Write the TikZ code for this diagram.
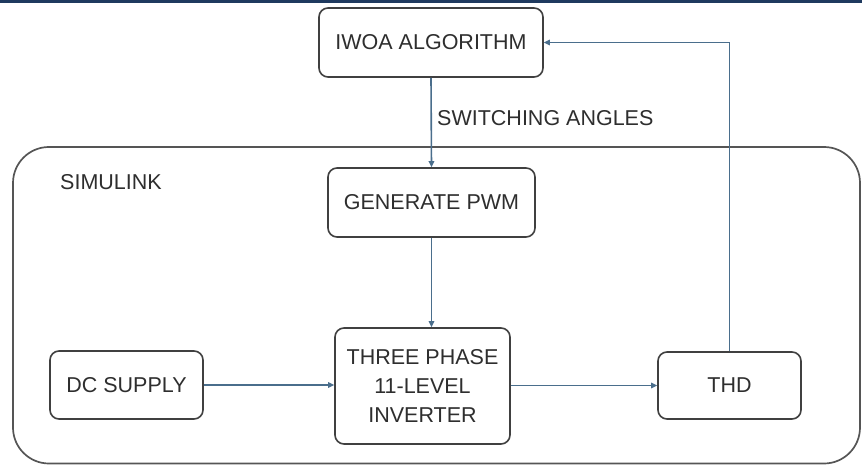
\documentclass[tikz,border=0pt]{standalone}
\usepackage{fontspec}
\setmainfont{Liberation Sans}
\usetikzlibrary{arrows.meta}
\definecolor{boxline}{HTML}{404040}
\definecolor{txt}{HTML}{2E2E2E}
\definecolor{conn}{HTML}{4A6E8C}
\definecolor{navy}{HTML}{1F3A5F}
\definecolor{frame}{HTML}{555555}
\tikzset{
  blk/.style={draw=boxline, line width=1.6pt, rounded corners=9pt, fill=white,
    text=txt, font=\fontsize{21.5}{29}\selectfont, align=center, inner sep=0pt},
  conn/.style={draw=conn, line width=1.6pt, -{Triangle[length=6pt,width=5.5pt]}},
  lbl/.style={text=txt, font=\fontsize{21.5}{24}\selectfont, inner sep=0pt}
}
\begin{document}
\begin{tikzpicture}[x=1pt,y=-1pt]
\useasboundingbox (0,0) rectangle (862,465);
\fill[white] (0,0) rectangle (862,465);
\fill[navy] (0,0) rectangle (862,3);
\draw[frame, line width=1.7pt, rounded corners=36pt] (13,147) rectangle (860,463.5);
\node[lbl, anchor=west] (sim) at (60,182) {SIMULINK};
\node[blk, minimum width=224pt, minimum height=69pt] (iwoa) at (431,42.5) {IWOA ALGORITHM};
\node[blk, minimum width=207pt, minimum height=69pt] (pwm) at (431.5,202.5) {GENERATE PWM};
\node[blk, minimum width=175pt, minimum height=116pt] (inv) at (422.5,386) {THREE PHASE\\11-LEVEL\\INVERTER};
\node[blk, minimum width=153pt, minimum height=68pt] (dc) at (126.5,385) {DC SUPPLY};
\node[blk, minimum width=143pt, minimum height=67pt] (thd) at (729.5,385.5) {THD};
\node[lbl, anchor=west] (sw) at (437,118) {SWITCHING ANGLES};
\draw[conn] (iwoa.south) -- (pwm.north);
\draw[conn] (pwm.south) -- (pwm.south |- inv.north);
\draw[conn] (dc.east) -- (dc.east -| inv.west);
\draw[conn] (inv.east |- thd.west) -- (thd.west);
\draw[conn] (thd.north) |- (iwoa.east);
\end{tikzpicture}
\end{document}
